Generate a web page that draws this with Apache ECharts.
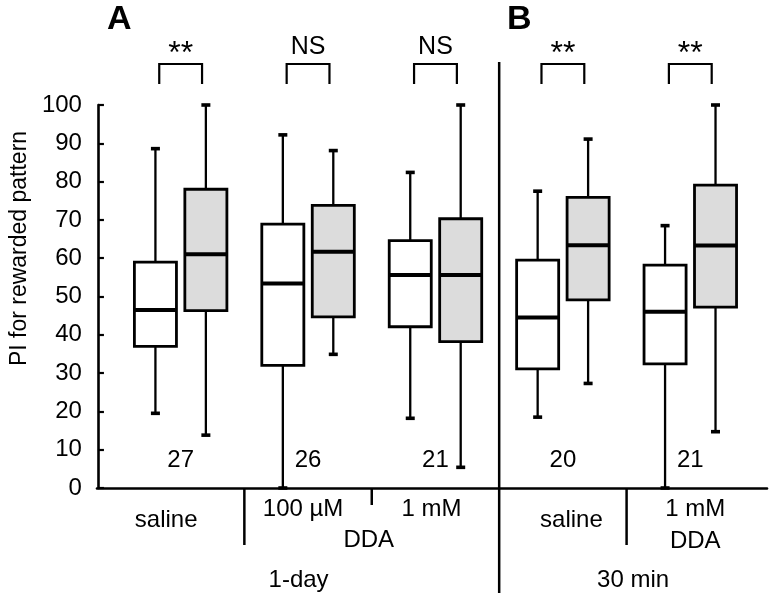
<!DOCTYPE html>
<html><head><meta charset="utf-8">
<script src="https://cdn.jsdelivr.net/npm/echarts@6/dist/echarts.min.js"></script>
<style>html,body{margin:0;padding:0;background:#fff}#c{width:774px;height:602px}</style>
</head><body><div id="c"></div>
<script>
// ---------- data ----------
const groupLabels = ['saline', '100 µM', '1 mM', 'saline', '1 mM\nDDA'];
const drugLabel = 'DDA';
const periodLabels = ['1-day', '30 min'];
const panelLabels = ['A', 'B'];
const yAxisTitle = 'PI for rewarded pattern';
// [min, Q1, median, Q3, max]
const whiteStats = [
  [19.5, 37.0, 46.5, 59.0, 88.6],
  [0.0, 32.0, 53.4, 68.9, 92.2],
  [18.2, 42.1, 55.6, 64.6, 82.4],
  [18.5, 31.1, 44.5, 59.5, 77.5],
  [0.0, 32.4, 46.0, 58.2, 68.5]
];
const grayStats = [
  [13.8, 46.3, 61.0, 78.0, 100.0],
  [34.9, 44.7, 61.7, 73.8, 88.1],
  [5.4, 38.2, 55.6, 70.3, 100.0],
  [27.3, 49.1, 63.4, 75.9, 91.1],
  [14.7, 47.2, 63.3, 79.1, 100.0]
];
const nCounts = [27, 26, 21, 20, 21];
const sigLabels = ['**', 'NS', 'NS', '**', '**'];

// ---------- layout / style ----------
const FONT = '"Liberation Sans", Arial, Helvetica, sans-serif';
const FS = 24;
const Y_OFFSET = 19;
const AXIS_EXT_RIGHT = 13;
const PAIR_OFF = 0.198;
const BOX_HALF = 0.165;
const BR_HALF = 0.168;
const BR_TOP = 110.7, BR_BOT = 105.5, SIG_Y = 115, N_Y = 7.3;

const chart = echarts.init(document.getElementById('c'), null, {renderer: 'canvas'});

function boxRender(side, fill) {
  return function (params, api) {
    const idx = api.value(0);
    const band = api.size([1, 0])[0];
    const cx = api.coord([idx, 0])[0] + side * band * PAIR_OFF;
    const hw = band * BOX_HALF;
    const y = v => api.coord([idx, v])[1];
    const yMin = y(api.value(1)), yQ1 = y(api.value(2)), yMed = y(api.value(3)),
          yQ3 = y(api.value(4)), yMax = y(api.value(5));
    const capW = 4.5;
    const ws = {stroke: '#000', lineWidth: 2.3};
    const cs = {stroke: '#000', lineWidth: 3.6};
    return {type: 'group', children: [
      {type: 'line', shape: {x1: cx, y1: yQ3, x2: cx, y2: yMax}, style: ws},
      {type: 'line', shape: {x1: cx, y1: yQ1, x2: cx, y2: yMin}, style: ws},
      {type: 'line', shape: {x1: cx - capW, y1: yMax, x2: cx + capW, y2: yMax}, style: cs},
      {type: 'line', shape: {x1: cx - capW, y1: yMin, x2: cx + capW, y2: yMin}, style: cs},
      {type: 'rect', shape: {x: cx - hw, y: yQ3, width: 2 * hw, height: yQ1 - yQ3},
        style: {fill: fill, stroke: '#000', lineWidth: 2.8}},
      {type: 'line', shape: {x1: cx - hw, y1: yMed, x2: cx + hw, y2: yMed},
        style: {stroke: '#000', lineWidth: 4}}
    ]};
  };
}

function annotRender(params, api) {
  const idx = api.value(0);
  const band = api.size([1, 0])[0];
  const cx = api.coord([idx, 0])[0];
  const hw = band * BR_HALF;
  const yT = api.coord([idx, BR_TOP])[1], yB = api.coord([idx, BR_BOT])[1];
  const sig = sigLabels[idx];
  const star = sig.indexOf('*') >= 0;
  return {type: 'group', children: [
    {type: 'polyline', shape: {points: [[cx - hw, yB], [cx - hw, yT], [cx + hw, yT], [cx + hw, yB]]},
      style: {stroke: '#000', lineWidth: 2.2, fill: 'none'}},
    {type: 'text', x: cx, y: api.coord([idx, SIG_Y])[1] + (star ? 7 : 0),
      style: {text: sig, fontFamily: FONT, fontSize: star ? 32 : 25, align: 'center', verticalAlign: 'middle', fill: '#000'}},
    {type: 'text', x: cx, y: api.coord([idx, N_Y])[1],
      style: {text: String(api.value(1)), fontFamily: FONT, fontSize: FS, align: 'center', verticalAlign: 'middle', fill: '#000'}}
  ]};
}

function frameRender(params, api) {
  const band = api.size([1, 0])[0];
  const x0 = api.coord([0, 0])[0];
  const y0 = api.coord([0, 0])[1];
  const b12 = x0 + 0.5 * band, b23 = x0 + 1.5 * band, b34 = x0 + 2.5 * band, b45 = x0 + 3.5 * band;
  const xStart = x0 - 0.5 * band - Y_OFFSET;
  const xEnd = x0 + 4.5 * band + AXIS_EXT_RIGHT;
  const ls = {stroke: '#000', lineWidth: 2.5};
  const ts = (t) => ({text: t, fontFamily: FONT, fontSize: FS, align: 'center', verticalAlign: 'middle', fill: '#000'});
  return {type: 'group', children: [
    {type: 'line', shape: {x1: b12, y1: y0, x2: b12, y2: y0 + 57}, style: ls},
    {type: 'line', shape: {x1: b23, y1: y0, x2: b23, y2: y0 + 17}, style: ls},
    {type: 'line', shape: {x1: b45, y1: y0, x2: b45, y2: y0 + 57}, style: ls},
    {type: 'line', shape: {x1: b34, y1: api.coord([0, 111.2])[1], x2: b34, y2: y0 + 105}, style: ls},
    {type: 'text', x: b23 - 3, y: y0 + 52, style: ts(drugLabel)},
    {type: 'text', x: (xStart + b34) / 2, y: y0 + 92, style: ts(periodLabels[0])},
    {type: 'text', x: (b34 + xEnd) / 2, y: y0 + 92, style: ts(periodLabels[1])}
  ]};
}

const labelPad = [[11, 29, 0, 0], [0, 10, 0, 0], [0, 8, 0, 0], [11, 0, 0, 17], [0, 0, 0, 10]];
const xData = groupLabels.map((g, i) => ({value: g, textStyle: {padding: labelPad[i]}}));

const option = {
  animation: false,
  backgroundColor: '#fff',
  title: [
    {text: panelLabels[0], left: 107, top: 3, padding: 0,
      textStyle: {fontFamily: FONT, fontSize: 34, fontWeight: 'bold', color: '#000'}},
    {text: panelLabels[1], left: 507, top: 3, padding: 0,
      textStyle: {fontFamily: FONT, fontSize: 34, fontWeight: 'bold', color: '#000'}}
  ],
  grid: [
    {left: 116, right: 20, top: 105, bottom: 114, containLabel: false},
    {left: 97, right: 7, top: 105, bottom: 114, containLabel: false}
  ],
  xAxis: [
    {type: 'category', gridIndex: 0, data: xData,
      axisLine: {show: false}, axisTick: {show: false}, splitLine: {show: false},
      axisLabel: {show: true, interval: 0, margin: 5, fontFamily: FONT, fontSize: FS, lineHeight: 32, color: '#000', verticalAlign: 'top'}},
    {type: 'value', gridIndex: 1, min: 0, max: 1,
      axisLine: {show: true, lineStyle: {color: '#000', width: 2.6}},
      axisTick: {show: false}, axisLabel: {show: false}, splitLine: {show: false}}
  ],
  yAxis: [
    {type: 'value', gridIndex: 0, min: 0, max: 100, interval: 10, offset: Y_OFFSET,
      name: yAxisTitle, nameLocation: 'middle', nameGap: 62,
      nameTextStyle: {fontFamily: FONT, fontSize: 23, color: '#000', padding: [0, 0, 0, 96]},
      axisLine: {show: true, lineStyle: {color: '#000', width: 2.6}},
      axisTick: {show: true, inside: true, length: 6, lineStyle: {color: '#000', width: 2.2}},
      axisLabel: {margin: 16, fontFamily: FONT, fontSize: FS, color: '#000'},
      splitLine: {show: false}},
    {type: 'value', gridIndex: 1, min: 0, max: 100, show: false}
  ],
  series: [
    {type: 'custom', name: 'white', xAxisIndex: 0, yAxisIndex: 0, clip: false, silent: true,
      renderItem: boxRender(-1, '#ffffff'), encode: {x: 0, y: [1, 2, 3, 4, 5]},
      data: whiteStats.map((s, i) => [i].concat(s))},
    {type: 'custom', name: 'gray', xAxisIndex: 0, yAxisIndex: 0, clip: false, silent: true,
      renderItem: boxRender(1, '#dcdcdc'), encode: {x: 0, y: [1, 2, 3, 4, 5]},
      data: grayStats.map((s, i) => [i].concat(s))},
    {type: 'custom', name: 'annot', xAxisIndex: 0, yAxisIndex: 0, clip: false, silent: true,
      renderItem: annotRender, encode: {x: 0, y: 1},
      data: nCounts.map((n, i) => [i, n])},
    {type: 'custom', name: 'frame', xAxisIndex: 0, yAxisIndex: 0, clip: false, silent: true,
      renderItem: frameRender, encode: {x: 0, y: 1},
      data: [[0, 0]]}
  ]
};
chart.setOption(option);
</script>
</body></html>
